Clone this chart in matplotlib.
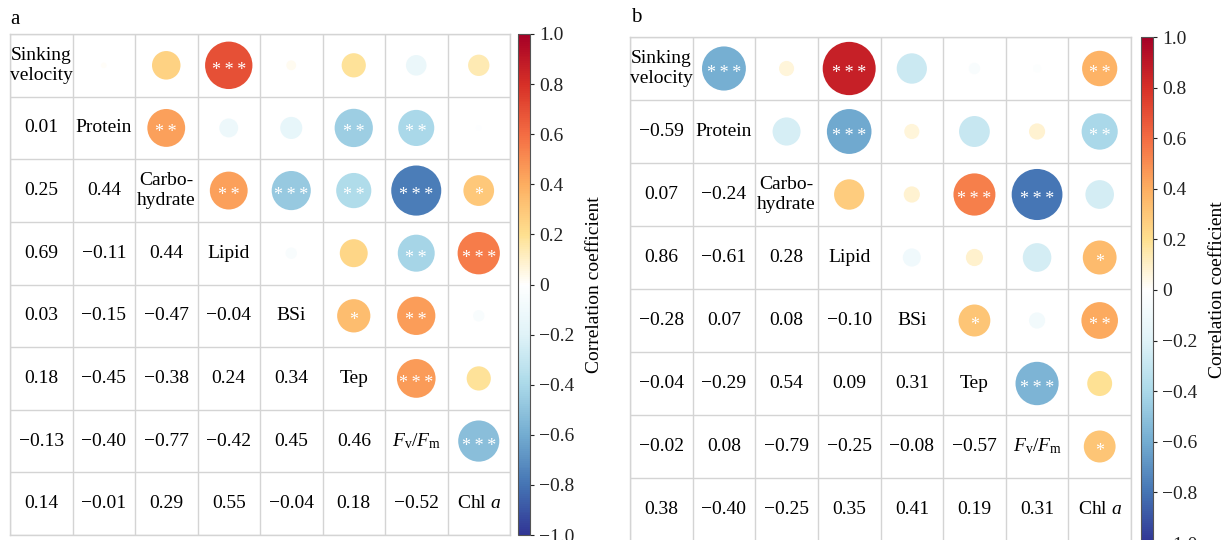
from __future__ import annotations

import matplotlib
import numpy as np

matplotlib.use("Agg")

from matplotlib import pyplot as plt
from matplotlib.colors import LinearSegmentedColormap, Normalize
from matplotlib.patches import Circle


VARIABLE_LABELS = [
    "Sinking\nvelocity",
    "Protein",
    "Carbo-\nhydrate",
    "Lipid",
    "BSi",
    "Tep",
    r"$F_\mathrm{v}/F_\mathrm{m}$",
    r"Chl $a$",
]

# lower triangle, row i holds correlations with variables 0..i-1
PANEL_A_R = [
    [0.01],
    [0.25, 0.44],
    [0.69, -0.11, 0.44],
    [0.03, -0.15, -0.47, -0.04],
    [0.18, -0.45, -0.38, 0.24, 0.34],
    [-0.13, -0.40, -0.77, -0.42, 0.45, 0.46],
    [0.14, -0.01, 0.29, 0.55, -0.04, 0.18, -0.52],
]
PANEL_A_STARS = [
    [""],
    ["", "**"],
    ["***", "", "**"],
    ["", "", "***", ""],
    ["", "**", "**", "", "*"],
    ["", "**", "***", "**", "**", "***"],
    ["", "", "*", "***", "", "", "***"],
]

PANEL_B_R = [
    [-0.59],
    [0.07, -0.24],
    [0.86, -0.61, 0.28],
    [-0.28, 0.07, 0.08, -0.10],
    [-0.04, -0.29, 0.54, 0.09, 0.31],
    [-0.02, 0.08, -0.79, -0.25, -0.08, -0.57],
    [0.38, -0.40, -0.25, 0.35, 0.41, 0.19, 0.31],
]
PANEL_B_STARS = [
    ["***"],
    ["", ""],
    ["***", "***", ""],
    ["", "", "", ""],
    ["", "", "***", "", "*"],
    ["", "", "***", "", "", "***"],
    ["**", "**", "", "*", "**", "", "*"],
]

CBAR_TICKS = [-1.0, -0.8, -0.6, -0.4, -0.2, 0.0, 0.2, 0.4, 0.6, 0.8, 1.0]

GRID_COLOR = "#d4d4d4"
CMAP = LinearSegmentedColormap.from_list(
    "rdylbu_white",
    ["#313695", "#4575b4", "#74add1", "#abd9e9", "#e0f3f8", "#ffffff",
     "#fee090", "#fdae61", "#f46d43", "#d73027", "#a50026"],
)
NORM = Normalize(vmin=-1.0, vmax=1.0)
FONT_SIZE = 14

plt.rcParams["font.family"] = ["Liberation Serif", "DejaVu Serif"]
plt.rcParams["mathtext.fontset"] = "custom"
plt.rcParams["mathtext.rm"] = "Liberation Serif"
plt.rcParams["mathtext.it"] = "Liberation Serif:italic"
plt.rcParams["axes.unicode_minus"] = True


def fmt_value(value: float) -> str:
    return f"{value:.2f}".replace("-", "\u2212")


def fmt_tick(value: float) -> str:
    if abs(value) < 1e-9:
        return "0"
    return f"{value:.1f}".replace("-", "\u2212")


def draw_matrix(axis, r_rows, star_rows) -> None:
    n = len(VARIABLE_LABELS)
    axis.set_xlim(0, n)
    axis.set_ylim(n, 0)
    axis.set_xticks(np.arange(n + 1))
    axis.set_yticks(np.arange(n + 1))
    axis.tick_params(length=0, labelbottom=False, labelleft=False)
    axis.grid(color=GRID_COLOR, linewidth=1.0)
    for spine in axis.spines.values():
        spine.set_color(GRID_COLOR)
        spine.set_linewidth(1.0)

    for k, label in enumerate(VARIABLE_LABELS):
        axis.text(k + 0.5, k + 0.5, label, ha="center", va="center", fontsize=FONT_SIZE, linespacing=1.2)

    for i, row in enumerate(r_rows, start=1):
        for j, value in enumerate(row):
            # lower triangle: number
            axis.text(j + 0.5, i + 0.5, fmt_value(value), ha="center", va="center", fontsize=FONT_SIZE)
            # upper triangle: circle, area scaled by |r|
            radius = 0.456 * np.sqrt(abs(value))
            axis.add_patch(Circle((i + 0.5, j + 0.5), radius, facecolor=CMAP(NORM(value)), edgecolor="none"))
            stars = star_rows[i - 1][j]
            if stars:
                spaced = "\u2009".join(stars)
                axis.text(i + 0.5, j + 0.58, spaced, ha="center", va="center", fontsize=13, color="white")


def draw_colorbar(figure, cax) -> None:
    mappable = matplotlib.cm.ScalarMappable(norm=NORM, cmap=CMAP)
    colorbar = figure.colorbar(mappable, cax=cax, ticks=CBAR_TICKS)
    colorbar.ax.set_yticklabels([fmt_tick(t) for t in CBAR_TICKS])
    colorbar.ax.tick_params(labelsize=FONT_SIZE, length=3, width=0.8, colors="#222222")
    colorbar.outline.set_edgecolor("#555555")
    colorbar.outline.set_linewidth(0.8)
    colorbar.set_label("Correlation coefficient", fontsize=FONT_SIZE, labelpad=8)


def main() -> None:
    figure = plt.figure(figsize=(12.29, 5.40), dpi=100)

    axis_a = figure.add_axes([10 / 1229, 5 / 540, 500 / 1229, 501 / 540])
    cax_a = figure.add_axes([518 / 1229, 5 / 540, 12 / 1229, 501 / 540])
    axis_b = figure.add_axes([630 / 1229, -1 / 540, 501 / 1229, 504 / 540])
    cax_b = figure.add_axes([1141 / 1229, -3 / 540, 12 / 1229, 506 / 540])

    draw_matrix(axis_a, PANEL_A_R, PANEL_A_STARS)
    draw_matrix(axis_b, PANEL_B_R, PANEL_B_STARS)
    draw_colorbar(figure, cax_a)
    draw_colorbar(figure, cax_b)

    figure.text(10 / 1229, 1 - 19 / 540, "a", fontsize=15, ha="left", va="center")
    figure.text(631 / 1229, 1 - 18 / 540, "b", fontsize=15, ha="left", va="center")

    figure.savefig("out.png", dpi=100)
    plt.close(figure)


if __name__ == "__main__":
    main()
